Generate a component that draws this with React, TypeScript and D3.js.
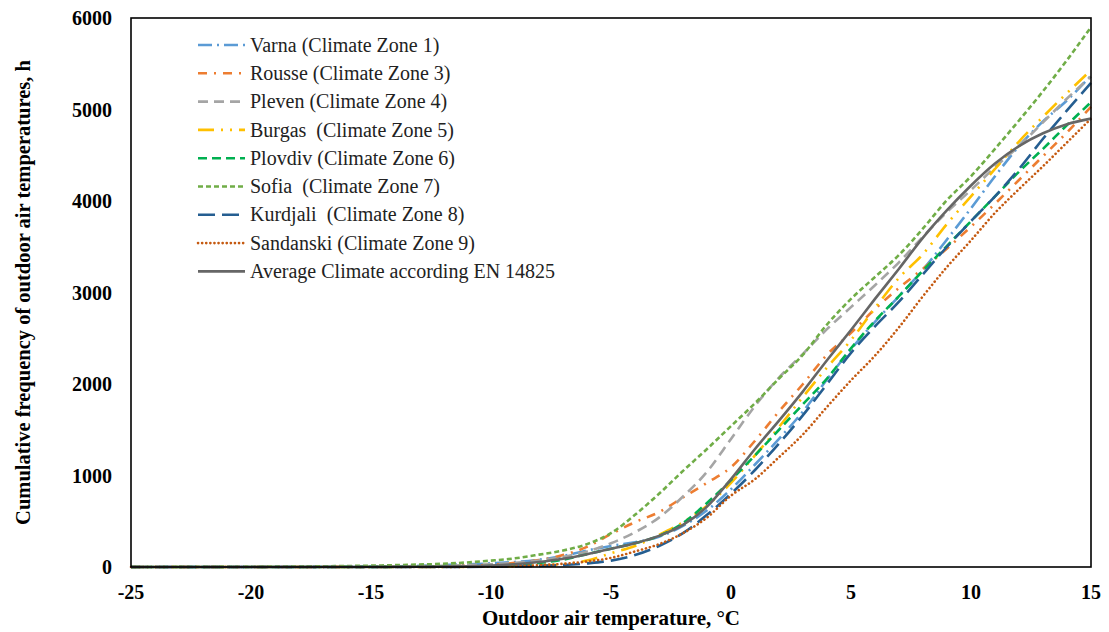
import React, { useEffect, useRef } from 'react'
import * as d3 from 'd3'

// outdoor air temperature, °C
const temps = [
  -25, -24, -23, -22, -21, -20, -19, -18, -17, -16,
  -15, -14, -13, -12, -11, -10, -9, -8, -7, -6,
  -5, -4, -3, -2, -1, 0, 1, 2, 3, 4,
  5, 6, 7, 8, 9, 10, 11, 12, 13, 14, 15,
]

// cumulative hours
const varna = [
  0, 0, 0, 0, 0, 0, 0, 1, 2, 3,
  5, 8, 12, 20, 30, 40, 55, 80, 120, 180,
  230, 270, 330, 450, 620, 850, 1120, 1400, 1700, 2050,
  2380, 2680, 2960, 3250, 3580, 3920, 4270, 4600, 4870, 5100, 5370,
]
const rousse = [
  0, 0, 0, 0, 0, 0, 0, 0, 1, 1,
  2, 3, 5, 8, 14, 25, 45, 75, 130, 220,
  360, 490, 600, 760, 920, 1090, 1380, 1700, 2000, 2320,
  2560, 2820, 3050, 3260, 3480, 3720, 3970, 4230, 4490, 4750, 5030,
]
const pleven = [
  0, 0, 0, 0, 0, 0, 1, 1, 2, 3,
  4, 6, 9, 13, 20, 30, 45, 70, 110, 170,
  260, 380, 540, 770, 1040, 1400, 1760, 2070, 2330, 2600,
  2840, 3080, 3330, 3610, 3880, 4120, 4370, 4600, 4860, 5120, 5360,
]
const burgas = [
  0, 0, 0, 0, 0, 0, 0, 0, 0, 0,
  0, 0, 1, 1, 2, 4, 8, 15, 30, 70,
  150, 230, 350, 490, 670, 920, 1220, 1530, 1860, 2180,
  2480, 2830, 3160, 3420, 3750, 4050, 4350, 4650, 4920, 5180, 5430,
]
const plovdiv = [
  0, 0, 0, 0, 0, 0, 0, 0, 0, 1,
  1, 2, 3, 5, 7, 10, 25, 45, 80, 140,
  200, 260, 340, 480, 700, 950, 1220, 1500, 1780, 2060,
  2390, 2690, 2960, 3240, 3510, 3780, 4050, 4320, 4570, 4830, 5080,
]
const sofia = [
  0, 0, 1, 1, 2, 3, 4, 6, 8, 11,
  15, 20, 27, 35, 50, 70, 95, 135, 180, 250,
  370, 570, 800, 1050, 1290, 1540, 1790, 2060, 2320, 2650,
  2930, 3170, 3410, 3700, 4010, 4270, 4570, 4880, 5200, 5540, 5900,
]
const kurdjali = [
  0, 0, 0, 0, 0, 0, 0, 0, 0, 0,
  0, 0, 0, 1, 1, 3, 6, 12, 22, 40,
  70, 130, 230, 370, 570, 800, 1060, 1350, 1660, 2000,
  2340, 2630, 2900, 3200, 3500, 3780, 4050, 4350, 4680, 4990, 5290,
]
const sandanski = [
  0, 0, 0, 0, 0, 0, 0, 0, 0, 0,
  0, 0, 0, 1, 2, 5, 10, 20, 35, 60,
  100, 170, 250, 370, 540, 780, 960, 1200, 1450, 1750,
  2040, 2310, 2620, 2960, 3280, 3570, 3870, 4130, 4380, 4640, 4900,
]
const average = [
  0, 0, 0, 0, 0, 0, 0, 0, 0, 0,
  0, 1, 2, 4, 8, 15, 30, 55, 90, 140,
  200, 260, 340, 460, 660, 960, 1290, 1600, 1920, 2260,
  2590, 2930, 3260, 3600, 3900, 4170, 4410, 4600, 4740, 4840, 4900,
]

const xTicks = [-25, -20, -15, -10, -5, 0, 5, 10, 15]
const yTicks = [0, 1000, 2000, 3000, 4000, 5000, 6000]

const series = [
  { name: 'Varna (Climate Zone 1)', values: varna, color: '#5B9BD5', dash: '14,5,2,5', cap: 'butt' },
  { name: 'Rousse (Climate Zone 3)', values: rousse, color: '#ED7D31', dash: '9,7,2,7', cap: 'butt' },
  { name: 'Pleven (Climate Zone 4)', values: pleven, color: '#A5A5A5', dash: '10,6', cap: 'butt' },
  { name: 'Burgas  (Climate Zone 5)', values: burgas, color: '#FFC000', dash: '16,7,2,7,2,7', cap: 'butt' },
  { name: 'Plovdiv (Climate Zone 6)', values: plovdiv, color: '#00B050', dash: '9,5', cap: 'butt' },
  { name: 'Sofia  (Climate Zone 7)', values: sofia, color: '#70AD47', dash: '5,3', cap: 'butt' },
  { name: 'Kurdjali  (Climate Zone 8)', values: kurdjali, color: '#255E91', dash: '17,7', cap: 'butt' },
  { name: 'Sandanski (Climate Zone 9)', values: sandanski, color: '#C55A11', dash: '0.1,4', cap: 'round' },
  { name: 'Average Climate according EN 14825', values: average, color: '#666666', dash: null, cap: 'butt' },
]

const W = 1109
const H = 632
const FONT = '"Liberation Serif", "Times New Roman", serif'

export default function App() {
  const svgRef = useRef<SVGSVGElement | null>(null)

  useEffect(() => {
    const svg = d3.select(svgRef.current)
    svg.selectAll('*').remove()

    const left = 131, right = 1091, top = 18, bottom = 567

    const x = d3.scaleLinear().domain([-25, 15]).range([left, right])
    const y = d3.scaleLinear().domain([0, 6000]).range([bottom, top])

    const line = d3.line<number>()
      .x((d, i) => x(temps[i]))
      .y(d => y(d))
      .curve(d3.curveMonotoneX)

    const lines = svg.append('g')
    series.forEach(s => {
      lines.append('path')
        .attr('d', line(s.values))
        .attr('fill', 'none')
        .attr('stroke', s.color)
        .attr('stroke-width', 2.6)
        .attr('stroke-dasharray', s.dash)
        .attr('stroke-linecap', s.cap)
    })

    // plot frame
    svg.append('rect')
      .attr('x', left).attr('y', top)
      .attr('width', right - left).attr('height', bottom - top)
      .attr('fill', 'none')
      .attr('stroke', '#000')
      .attr('stroke-width', 1.6)

    // tick labels
    svg.append('g').selectAll('text')
      .data(xTicks)
      .enter()
      .append('text')
      .attr('x', d => x(d))
      .attr('y', 599)
      .attr('text-anchor', 'middle')
      .attr('font-family', FONT)
      .attr('font-weight', 'bold')
      .attr('font-size', 20)
      .text(d => d)

    svg.append('g').selectAll('text')
      .data(yTicks)
      .enter()
      .append('text')
      .attr('x', 112)
      .attr('y', d => y(d))
      .attr('dy', '0.35em')
      .attr('text-anchor', 'end')
      .attr('font-family', FONT)
      .attr('font-weight', 'bold')
      .attr('font-size', 20)
      .text(d => d)

    // axis titles
    svg.append('text')
      .attr('x', (left + right) / 2)
      .attr('y', 625)
      .attr('text-anchor', 'middle')
      .attr('font-family', FONT)
      .attr('font-weight', 'bold')
      .attr('font-size', 21)
      .text('Outdoor air temperature, °C')

    svg.append('text')
      .attr('transform', `translate(30,${(top + bottom) / 2}) rotate(-90)`)
      .attr('text-anchor', 'middle')
      .attr('font-family', FONT)
      .attr('font-weight', 'bold')
      .attr('font-size', 20.5)
      .text('Cumulative frequency of outdoor air temperatures, h')

    // legend
    const leg = svg.append('g')
    series.forEach((s, i) => {
      const cy = 45 + i * 28.3
      leg.append('line')
        .attr('x1', 198).attr('x2', 245)
        .attr('y1', cy).attr('y2', cy)
        .attr('stroke', s.color)
        .attr('stroke-width', 2.6)
        .attr('stroke-dasharray', s.dash)
        .attr('stroke-linecap', s.cap)
      leg.append('text')
        .attr('x', 250)
        .attr('y', cy)
        .attr('dy', '0.33em')
        .attr('font-family', FONT)
        .attr('font-size', 20)
        .attr('fill', '#222')
        .style('white-space', 'pre')
        .text(s.name)
    })
  }, [])

  return (
    <svg
      ref={svgRef}
      width={W}
      height={H}
      style={{ position: 'absolute', left: 0, top: 0, background: '#fff' }}
    />
  )
}
